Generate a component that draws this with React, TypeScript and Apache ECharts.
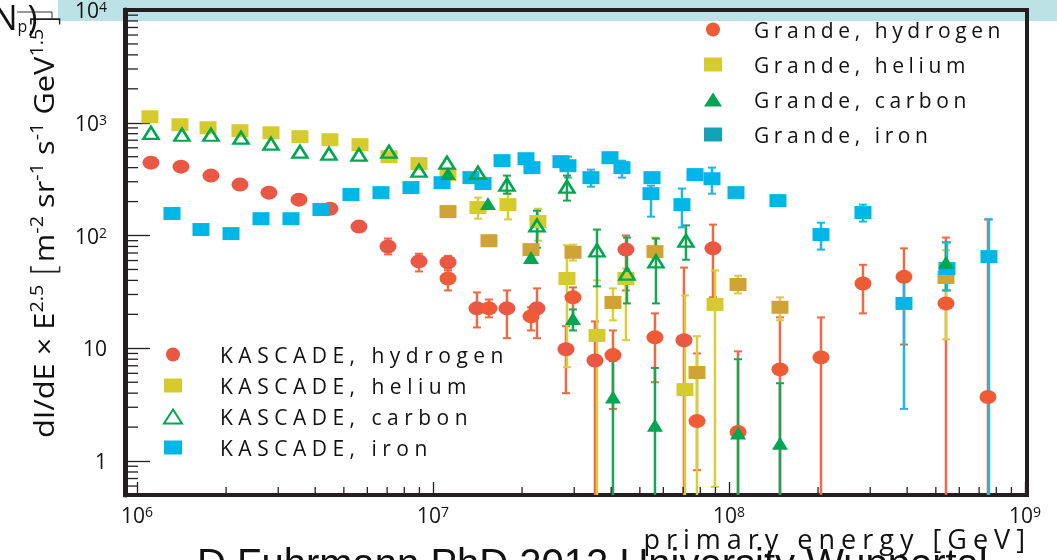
import React, { useEffect, useRef } from 'react';
import * as echarts from 'echarts';

// ---------- axis ranges & tick values ----------
const X_MIN = 9.11e5;
const X_MAX = 1.016e9;
const Y_MIN = 0.5;
const Y_MAX = 1e4;
const X_MINOR = [2e6, 3e6, 4e6, 5e6, 6e6, 7e6, 8e6, 9e6, 2e7, 3e7, 4e7, 5e7, 6e7, 7e7, 8e7, 9e7, 2e8, 3e8, 4e8, 5e8, 6e8, 7e8, 8e8, 9e8];
const Y_MINOR = [0.6, 0.7, 0.8, 0.9, 2, 3, 4, 5, 6, 7, 8, 9, 20, 30, 40, 50, 60, 70, 80, 90, 200, 300, 400, 500, 600, 700, 800, 900, 2000, 3000, 4000, 5000, 6000, 7000, 8000, 9000];

// ---------- Grande, hydrogen ----------
const G_H_E = [1.124e7, 1.546e7, 2.144e7, 2.972e7, 4.056e7, 5.623e7, 7.798e7, 1.073e8, 1.487e8, 2.046e8, 2.836e8, 3.902e8, 5.41e8, 7.499e8];
const G_H_V = [41.6, 22.6, 19.2, 28.3, 8.7, 12.5, 2.26, 1.81, 6.5, 8.3, 37.6, 43, 25.0, 3.7];
const G_H_LO = [32.6, 18.8, 14.4, 17.7, 2.9, 5.0, 0.83, 0.3, 0.3, 0.3, 20.4, 10.8, 0.3, 0.3];
const G_H_HI = [51, 27.1, 23.1, 34.7, 14.4, 20.4, 9.0, 9.4, 18.8, 18.8, 55, 77, 96, 139];

// ---------- Grande, helium ----------
const G_HE_E = [1.124e7, 1.546e7, 2.144e7, 2.972e7, 4.056e7, 5.623e7, 7.798e7, 1.073e8, 1.487e8, 5.41e8];
const G_HE_V = [163, 90, 75, 71, 25.5, 72, 6.1, 36.8, 23.1, 42.5];
const G_HE_LO = [null, null, null, 60, 17.7, 63, 0.3, 30.7, 17.7, 12.0];
const G_HE_HI = [null, null, null, 83, 34.0, 96, 12.8, 44, 28.3, 74];

// ---------- Grande, carbon ----------
const G_C_E = [1.124e7, 1.534e7, 2.144e7, 2.972e7, 4.056e7, 5.623e7, 1.073e8, 1.487e8, 5.41e8];
const G_C_V = [354, 192, 64, 18.4, 3.7, 2.08, 1.77, 1.44, 58];
const G_C_LO = [null, null, null, 14.4, 0.3, 0.3, 0.3, 0.3, 32.6];
const G_C_HI = [null, null, null, 22.1, 7.7, 6.7, 8.0, 4.9, 87];

// ---------- Grande, iron ----------
const G_FE_E = [1.476e7, 2.062e7, 2.858e7, 3.963e7, 5.452e7, 7.677e7, 1.056e8, 1.464e8, 2.046e8, 2.836e8, 3.902e8, 5.452e8, 7.557e8];
const G_FE_V = [289, 480, 416, 490, 235, 347, 240, 204, 102, 160, 25.0, 51, 65];
const G_FE_LO = [null, null, 326, null, 147, null, null, null, 75, 133, 2.9, 32.6, 0.3];
const G_FE_HI = [null, null, 500, null, 277, null, null, null, 130, 188, 47, 87, 139];

// ---------- KASCADE, hydrogen ----------
const K_H_E = [1.115e6, 1.408e6, 1.778e6, 2.228e6, 2.792e6, 3.526e6, 4.487e6, 5.623e6, 7.047e6, 8.969e6, 1.124e7, 1.408e7, 1.778e7, 2.246e7, 2.814e7, 3.526e7, 4.487e7, 7.047e7, 8.83e7];
const K_H_V = [443, 408, 340, 283, 240, 208, 173, 120, 80, 59, 58, 22.6, 22.6, 22.6, 9.8, 7.8, 75, 11.8, 77];
const K_H_LO = [null, null, null, null, null, null, null, null, 68, 48, 49, 15.3, 12.3, 12.3, 4.0, 0.3, 32.6, 0.3, 28.3];
const K_H_HI = [null, null, null, null, null, null, null, null, 94, 69, 66, 31.3, 32.6, 34.0, 15.7, 17.3, 100, 52, 125];

// ---------- KASCADE, helium ----------
const K_HE_E = [1.106e6, 1.397e6, 1.738e6, 2.228e6, 2.836e6, 3.553e6, 4.487e6, 5.667e6, 7.102e6, 8.969e6, 1.124e7, 1.419e7, 1.792e7, 2.263e7, 2.836e7, 3.582e7, 4.487e7, 7.102e7, 8.969e7];
const K_HE_V = [1130, 960, 903, 850, 815, 752, 707, 639, 500, 434, 347, 177, 188, 133, 41.6, 13.0, 41.6, 4.3, 24.5];
const K_HE_LO = [null, null, null, null, null, null, null, null, null, null, null, 141, 139, 90, 6.8, 0.3, 11.8, 0.3, 0.59];
const K_HE_HI = [null, null, null, null, null, null, null, null, null, null, null, 217, 235, 173, 82, 40, 51, 29.4, 49];

// ---------- KASCADE, carbon ----------
const K_C_E = [1.115e6, 1.419e6, 1.778e6, 2.246e6, 2.836e6, 3.553e6, 4.453e6, 5.623e6, 7.102e6, 8.969e6, 1.115e7, 1.419e7, 1.778e7, 2.246e7, 2.836e7, 3.582e7, 4.522e7, 5.667e7, 7.157e7];
const K_C_V = [815, 783, 783, 737, 652, 554, 532, 521, 554, 376, 443, 361, 283, 123, 271, 74, 46, 59, 90];
const K_C_LO = [null, null, null, null, null, null, null, null, null, null, null, null, 235, 78, 204, 35.4, 25.0, 25.0, 61];
const K_C_HI = [null, null, null, null, null, null, null, null, null, null, null, null, 340, 166, 340, 113, 96, 94, 123];

// ---------- KASCADE, iron ----------
const K_FE_E = [1.313e6, 1.645e6, 2.078e6, 2.624e6, 3.313e6, 4.183e6, 5.284e6, 6.673e6, 8.427e6, 1.073e7, 1.344e7, 1.711e7, 2.16e7, 2.706e7, 3.418e7, 4.35e7, 5.495e7, 6.937e7, 8.763e7];
const K_FE_V = [157, 113, 104, 141, 141, 170, 231, 240, 266, 294, 326, 461, 400, 452, 326, 400, 326, 188, 319];
const K_FE_LO = [null, null, null, null, null, null, null, null, null, null, null, null, null, null, 271, 326, null, 118, 235];
const K_FE_HI = [null, null, null, null, null, null, null, null, null, null, null, null, null, null, 384, 461, null, 261, 400];

const GRANDE_NAMES = ['Grande, hydrogen', 'Grande, helium', 'Grande, carbon', 'Grande, iron'];
const KASCADE_NAMES = ['KASCADE, hydrogen', 'KASCADE, helium', 'KASCADE, carbon', 'KASCADE, iron'];

// ---------- styles ----------
const FRAME = '#231f20';
const RED_G = '#ee5b34';
const RED_K = '#ea5845';
const YELLOW = '#d5ca2e';
const GOLD = '#d0a434';
const GREEN = '#00a650';
const CYAN = '#00b6e6';
const FONT = 'Open Sans';
const ELLIPSE = 'path://M0 50 A50 50 0 1 0 100 50 A50 50 0 1 0 0 50 Z';

const zip = (e: number[], v: number[]) => e.map((x, i) => [x, v[i]]);
const errData = (e: number[], lo: (number | null)[], hi: (number | null)[]) =>
  e.map((x, i) => (lo[i] == null ? null : [x, lo[i], hi[i]])).filter((d) => d !== null);

const errSeries = (name: string, data: any[], color: string) => ({
  type: 'custom',
  name,
  data,
  clip: true,
  silent: true,
  z: 3,
  encode: { x: 0, y: [1, 2] },
  renderItem: (_p: any, api: any) => {
    const x = api.value(0);
    const lo = api.coord([x, api.value(1)]);
    const hi = api.coord([x, api.value(2)]);
    const c = 4;
    return {
      type: 'group',
      children: [
        { type: 'line', shape: { x1: lo[0], y1: lo[1], x2: hi[0], y2: hi[1] }, style: { stroke: color, lineWidth: 2.5 } },
        { type: 'line', shape: { x1: hi[0] - c, y1: hi[1], x2: hi[0] + c, y2: hi[1] }, style: { stroke: color, lineWidth: 2 } },
        { type: 'line', shape: { x1: lo[0] - c, y1: lo[1], x2: lo[0] + c, y2: lo[1] }, style: { stroke: color, lineWidth: 2 } },
      ],
    };
  },
});

const labelRich = {
  b: { fontSize: 21, fontFamily: FONT, color: '#111' },
  s: { fontSize: 14, fontFamily: FONT, color: '#111', verticalAlign: 'top' },
};

const powLabel = (v: number) => {
  const l = Math.log10(v);
  const e = Math.round(l);
  if (Math.abs(l - e) > 1e-6) return '';
  if (e === 0) return '{b|1}';
  if (e === 1) return '{b|10}';
  return `{b|10}{s|${e}}`;
};

export default function App() {
  const ref = useRef<HTMLDivElement>(null);
  useEffect(() => {
    const el = ref.current as HTMLDivElement;
    const chart = echarts.init(el, null, { renderer: 'svg' });

    const legendText = (pad: number) => ({
      fontFamily: FONT,
      fontSize: 21,
      color: '#111',
      padding: [0, 0, 0, pad],
    });

    const option: any = {
      animation: false,
      grid: {
        left: 125, right: 30, top: 10, bottom: 65,
        show: true, borderColor: FRAME, borderWidth: 4,
        outerBoundsMode: 'none',
      },
      xAxis: {
        type: 'log', min: X_MIN, max: X_MAX,
        axisLine: { show: false },
        axisTick: { show: true, inside: true, length: 13, lineStyle: { color: FRAME, width: 1.3 } },
        splitLine: { show: false },
        axisLabel: { margin: 9, formatter: powLabel, rich: labelRich, showMinLabel: true, showMaxLabel: true },
      },
      yAxis: {
        type: 'log', min: Y_MIN, max: Y_MAX,
        axisLine: { show: true, lineStyle: { color: FRAME, width: 5 } },
        axisTick: { show: true, inside: true, length: 25, lineStyle: { color: FRAME, width: 1.3 } },
        splitLine: { show: false },
        axisLabel: { margin: 18, formatter: powLabel, rich: labelRich, showMinLabel: true, showMaxLabel: true },
      },
      legend: [
        {
          data: [
            { name: GRANDE_NAMES[0] },
            { name: GRANDE_NAMES[1], itemStyle: { color: YELLOW } },
            { name: GRANDE_NAMES[2] },
            { name: GRANDE_NAMES[3], itemStyle: { color: '#12a3b7' } },
          ],
          orient: 'vertical', left: 699, top: 14, itemWidth: 18, itemHeight: 14, itemGap: 14,
          selectedMode: false, textStyle: legendText(27),
        },
        {
          data: KASCADE_NAMES,
          orient: 'vertical', left: 158, top: 339, itemWidth: 18, itemHeight: 14, itemGap: 10,
          selectedMode: false, textStyle: legendText(33),
        },
      ],
      graphic: [
        { type: 'rect', z: -10, silent: true, shape: { x: 58, y: 0, width: 1000, height: 21 }, style: { fill: '#bde2e5' } },
        {
          type: 'text', x: 44, y: 438, rotation: Math.PI / 2, scaleX: 1.1, silent: true,
          style: {
            text: '{a|dI/dE × E}{s|2.5}{a| }{k|[}{a|m}{s|-2}{a| sr}{s|-1}{a| s}{s|-1}{a| GeV}{s|1.5}{k|]}',
            align: 'left', verticalAlign: 'middle', fill: '#111',
            rich: {
              a: { fontSize: 28, fontFamily: FONT, fill: '#111' },
              s: { fontSize: 18, fontFamily: FONT, fill: '#111', verticalAlign: 'top' },
              k: { fontSize: 34, fontFamily: 'DejaVu Sans', fill: '#222', fontWeight: 100 },
            },
          },
        },
        {
          type: 'text', x: -8, y: 0, silent: true,
          style: {
            text: '{n|N}{p|p}{n|)}', align: 'left', verticalAlign: 'top', fill: '#111',
            rich: {
              n: { fontSize: 34, fontFamily: FONT, fill: '#111' },
              p: { fontSize: 16, fontFamily: FONT, fill: '#111', verticalAlign: 'bottom' },
            },
          },
        },
        { type: 'line', silent: true, shape: { x1: 17, y1: 12, x2: 52, y2: 12 }, style: { stroke: '#333', lineWidth: 1 } },
        { type: 'line', silent: true, shape: { x1: 52, y1: 12, x2: 52, y2: 19 }, style: { stroke: '#333', lineWidth: 1 } },
        {
          type: 'text', x: 1031, y: 538, silent: true,
          style: { text: 'primary energy [GeV]', align: 'right', verticalAlign: 'middle', fontSize: 27, fontFamily: FONT, fill: '#111' },
        },
        {
          type: 'text', x: 197, y: 563, silent: true,
          style: { text: 'D.Fuhrmann PhD 2012 University Wuppertal', align: 'left', verticalAlign: 'middle', fontSize: 40, fontFamily: 'Liberation Sans', fill: '#111' },
        },
      ],
      series: [
        // minor ticks
        {
          type: 'custom', name: 'x minor ticks', silent: true, z: 6, clip: false,
          data: X_MINOR.map((v) => [v, Y_MIN]),
          renderItem: (_p: any, api: any) => {
            const c = api.coord([api.value(0), api.value(1)]);
            return { type: 'line', shape: { x1: c[0], y1: c[1] - 2, x2: c[0], y2: c[1] - 8 }, style: { stroke: FRAME, lineWidth: 1.3 } };
          },
        },
        {
          type: 'custom', name: 'y minor ticks', silent: true, z: 6, clip: false,
          data: Y_MINOR.map((v) => [X_MIN, v]),
          renderItem: (_p: any, api: any) => {
            const c = api.coord([api.value(0), api.value(1)]);
            return { type: 'line', shape: { x1: c[0] + 2, y1: c[1], x2: c[0] + 13, y2: c[1] }, style: { stroke: FRAME, lineWidth: 1.3 } };
          },
        },
        // error bars
        errSeries('Grande, hydrogen error', errData(G_H_E, G_H_LO, G_H_HI), '#ef6a44'),
        errSeries('Grande, helium error', errData(G_HE_E, G_HE_LO, G_HE_HI), '#d8cd3a'),
        errSeries('Grande, carbon error', errData(G_C_E, G_C_LO, G_C_HI), '#17a653'),
        errSeries('Grande, iron error', errData(G_FE_E, G_FE_LO, G_FE_HI), '#1cb7e6'),
        errSeries('KASCADE, hydrogen error', errData(K_H_E, K_H_LO, K_H_HI), '#ef6a44'),
        errSeries('KASCADE, helium error', errData(K_HE_E, K_HE_LO, K_HE_HI), '#d8cd3a'),
        errSeries('KASCADE, carbon error', errData(K_C_E, K_C_LO, K_C_HI), '#17a653'),
        errSeries('KASCADE, iron error', errData(K_FE_E, K_FE_LO, K_FE_HI), '#1cb7e6'),
        // markers
        { type: 'scatter', name: KASCADE_NAMES[1], z: 4, data: zip(K_HE_E, K_HE_V), symbol: 'rect', symbolSize: [17, 13], itemStyle: { color: YELLOW, opacity: 1 } },
        { type: 'scatter', name: KASCADE_NAMES[0], z: 4, data: zip(K_H_E, K_H_V), symbol: ELLIPSE, symbolSize: [17, 14], itemStyle: { color: RED_K, opacity: 1 } },
        { type: 'scatter', name: GRANDE_NAMES[1], z: 4, data: zip(G_HE_E, G_HE_V), symbol: 'rect', symbolSize: [17, 13], itemStyle: { color: GOLD, opacity: 1 } },
        { type: 'scatter', name: GRANDE_NAMES[0], z: 4, data: zip(G_H_E, G_H_V), symbol: ELLIPSE, symbolSize: [17, 14], itemStyle: { color: RED_G, opacity: 1 } },
        { type: 'scatter', name: KASCADE_NAMES[3], z: 4, data: zip(K_FE_E, K_FE_V), symbol: 'rect', symbolSize: [17, 13], itemStyle: { color: CYAN, opacity: 1 } },
        { type: 'scatter', name: GRANDE_NAMES[3], z: 4, data: zip(G_FE_E, G_FE_V), symbol: 'rect', symbolSize: [17, 13], itemStyle: { color: CYAN, opacity: 1 } },
        { type: 'scatter', name: KASCADE_NAMES[2], z: 4, data: zip(K_C_E, K_C_V), symbol: 'triangle', symbolSize: [15, 12], itemStyle: { color: 'rgba(255,255,255,0)', borderColor: GREEN, borderWidth: 2.5, opacity: 1 } },
        { type: 'scatter', name: GRANDE_NAMES[2], z: 4, data: zip(G_C_E, G_C_V), symbol: 'triangle', symbolSize: [16, 13], itemStyle: { color: GREEN, opacity: 1 } },
      ],
    };

    chart.on('finished', () => {
      el.querySelectorAll('text').forEach((t) => {
        const s = t.textContent || '';
        if (s.indexOf('KASCADE') === 0) (t as any).style.letterSpacing = '5.5px';
        else if (s.indexOf('Grande') === 0) (t as any).style.letterSpacing = '4.6px';
        else if (s.indexOf('primary') === 0) (t as any).style.letterSpacing = '6px';
      });
    });
    chart.setOption(option);
    return () => chart.dispose();
  }, []);
  return <div ref={ref} style={{ position: 'fixed', left: 0, top: 0, width: 1057, height: 560 }} />;
}
